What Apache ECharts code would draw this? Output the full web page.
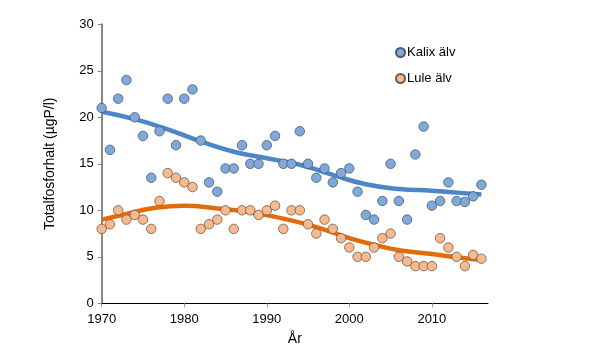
<!DOCTYPE html>
<html>
<head>
<meta charset="utf-8">
<script src="https://cdn.jsdelivr.net/npm/echarts@6/dist/echarts.min.js"></script>
<style>html,body{margin:0;padding:0;background:#fff}#c{width:600px;height:361px}</style>
</head>
<body>
<div id="c"></div>
<script>
const years = [1970,1971,1972,1973,1974,1975,1976,1977,1978,1979,1980,1981,1982,1983,1984,1985,1986,1987,1988,1989,1990,1991,1992,1993,1994,1995,1996,1997,1998,1999,2000,2001,2002,2003,2004,2005,2006,2007,2008,2009,2010,2011,2012,2013,2014,2015,2016];
const kalix = [21,16.5,22,24,20,18,13.5,18.5,22,17,22,23,17.5,13,12,14.5,14.5,17,15,15,17,18,15,15,18.5,15,13.5,14.5,13,14,14.5,12,9.5,9,11,15,11,9,16,19,10.5,11,13,11,10.9,11.5,12.75];
const lule = [8,8.5,10,9,9.5,9,8,11,14,13.5,13,12.5,8,8.5,9,10,8,10,10,9.5,10,10.5,8,10,10,8.5,7.5,9,8,7,6,5,5,6,7,7.5,5,4.5,4,4,4,7,6,5,4,5.2,4.8];
const trendYearsK = [1970,1974,1978,1982,1986,1990,1994,1998,2002,2006,2010,2013,2016];
const trendKalix = [20.6,19.8,18.7,17.4,16.3,15.6,14.9,13.8,12.8,12.3,12.1,11.9,11.7];
const trendYearsL = [1970,1973,1976,1980,1984,1988,1992,1996,2000,2003,2006,2010,2013,2016];
const trendLule = [9.0,9.6,10.2,10.5,10.2,9.8,9.1,8.2,7.0,6.3,5.7,5.3,4.95,4.65];
const xTicks = [1970,1980,1990,2000,2010];
const yTicks = [0,5,10,15,20,25,30];
const seriesNames = ['Kalix älv','Lule älv'];

const pair = (xs, ys) => xs.map((x,i)=>[x, ys[i]]);
const chart = echarts.init(document.getElementById('c'), null, {renderer:'canvas'});
const font = 'Liberation Sans, Arial, sans-serif';
chart.setOption({
  animation:false,
  grid:{left:101.7, right:112, top:24.3, bottom:57.7, containLabel:false},
  legend:{
    data:seriesNames, orient:'vertical', left:390, top:41, itemGap:13,
    itemWidth:9, itemHeight:9, icon:'circle',
    textStyle:{fontFamily:font, fontSize:13, color:'#000', padding:[0,0,0,-3]}
  },
  xAxis:{
    type:'value', min:1970, max:2016.8,
    name:'År', nameLocation:'middle', nameGap:29,
    nameTextStyle:{fontFamily:font, fontSize:14, color:'#000'},
    axisLine:{show:true, onZero:false, lineStyle:{color:'#000', width:1}},
    axisTick:{show:true, length:4, customValues:xTicks, lineStyle:{color:'#999'}},
    axisLabel:{customValues:xTicks, formatter:v=>String(v), fontFamily:font, fontSize:13, color:'#000', margin:10},
    splitLine:{show:false}
  },
  yAxis:{
    type:'value', min:0, max:30, interval:5,
    name:'Totalfosforhalt (µgP/l)', nameLocation:'middle', nameGap:45,
    nameTextStyle:{fontFamily:font, fontSize:14, color:'#000'},
    axisLine:{show:true, lineStyle:{color:'#888', width:2}},
    axisTick:{show:true, length:4, lineStyle:{color:'#888'}},
    axisLabel:{fontFamily:font, fontSize:13, color:'#000', margin:8},
    splitLine:{show:false}
  },
  series:[
    {name:'Kalix trend', type:'line', data:pair(trendYearsK, trendKalix), smooth:0.5, showSymbol:false, symbol:'none',
     lineStyle:{color:'#4a86c8', width:4.5}, z:1, silent:true},
    {name:'Lule trend', type:'line', data:pair(trendYearsL, trendLule), smooth:0.5, showSymbol:false, symbol:'none',
     lineStyle:{color:'#e36c09', width:4.5}, z:1, silent:true},
    {name:seriesNames[0], type:'scatter', data:pair(years, kalix), symbol:'circle', symbolSize:9.5,
     itemStyle:{color:'#7fa9dc', borderColor:'#4d5a66', borderWidth:0.8, opacity:1}, z:3},
    {name:seriesNames[1], type:'scatter', data:pair(years, lule), symbol:'circle', symbolSize:9.5,
     itemStyle:{color:'#f8b98d', borderColor:'#6b5a4e', borderWidth:0.8, opacity:1}, z:3}
  ]
});
</script>
</body>
</html>
